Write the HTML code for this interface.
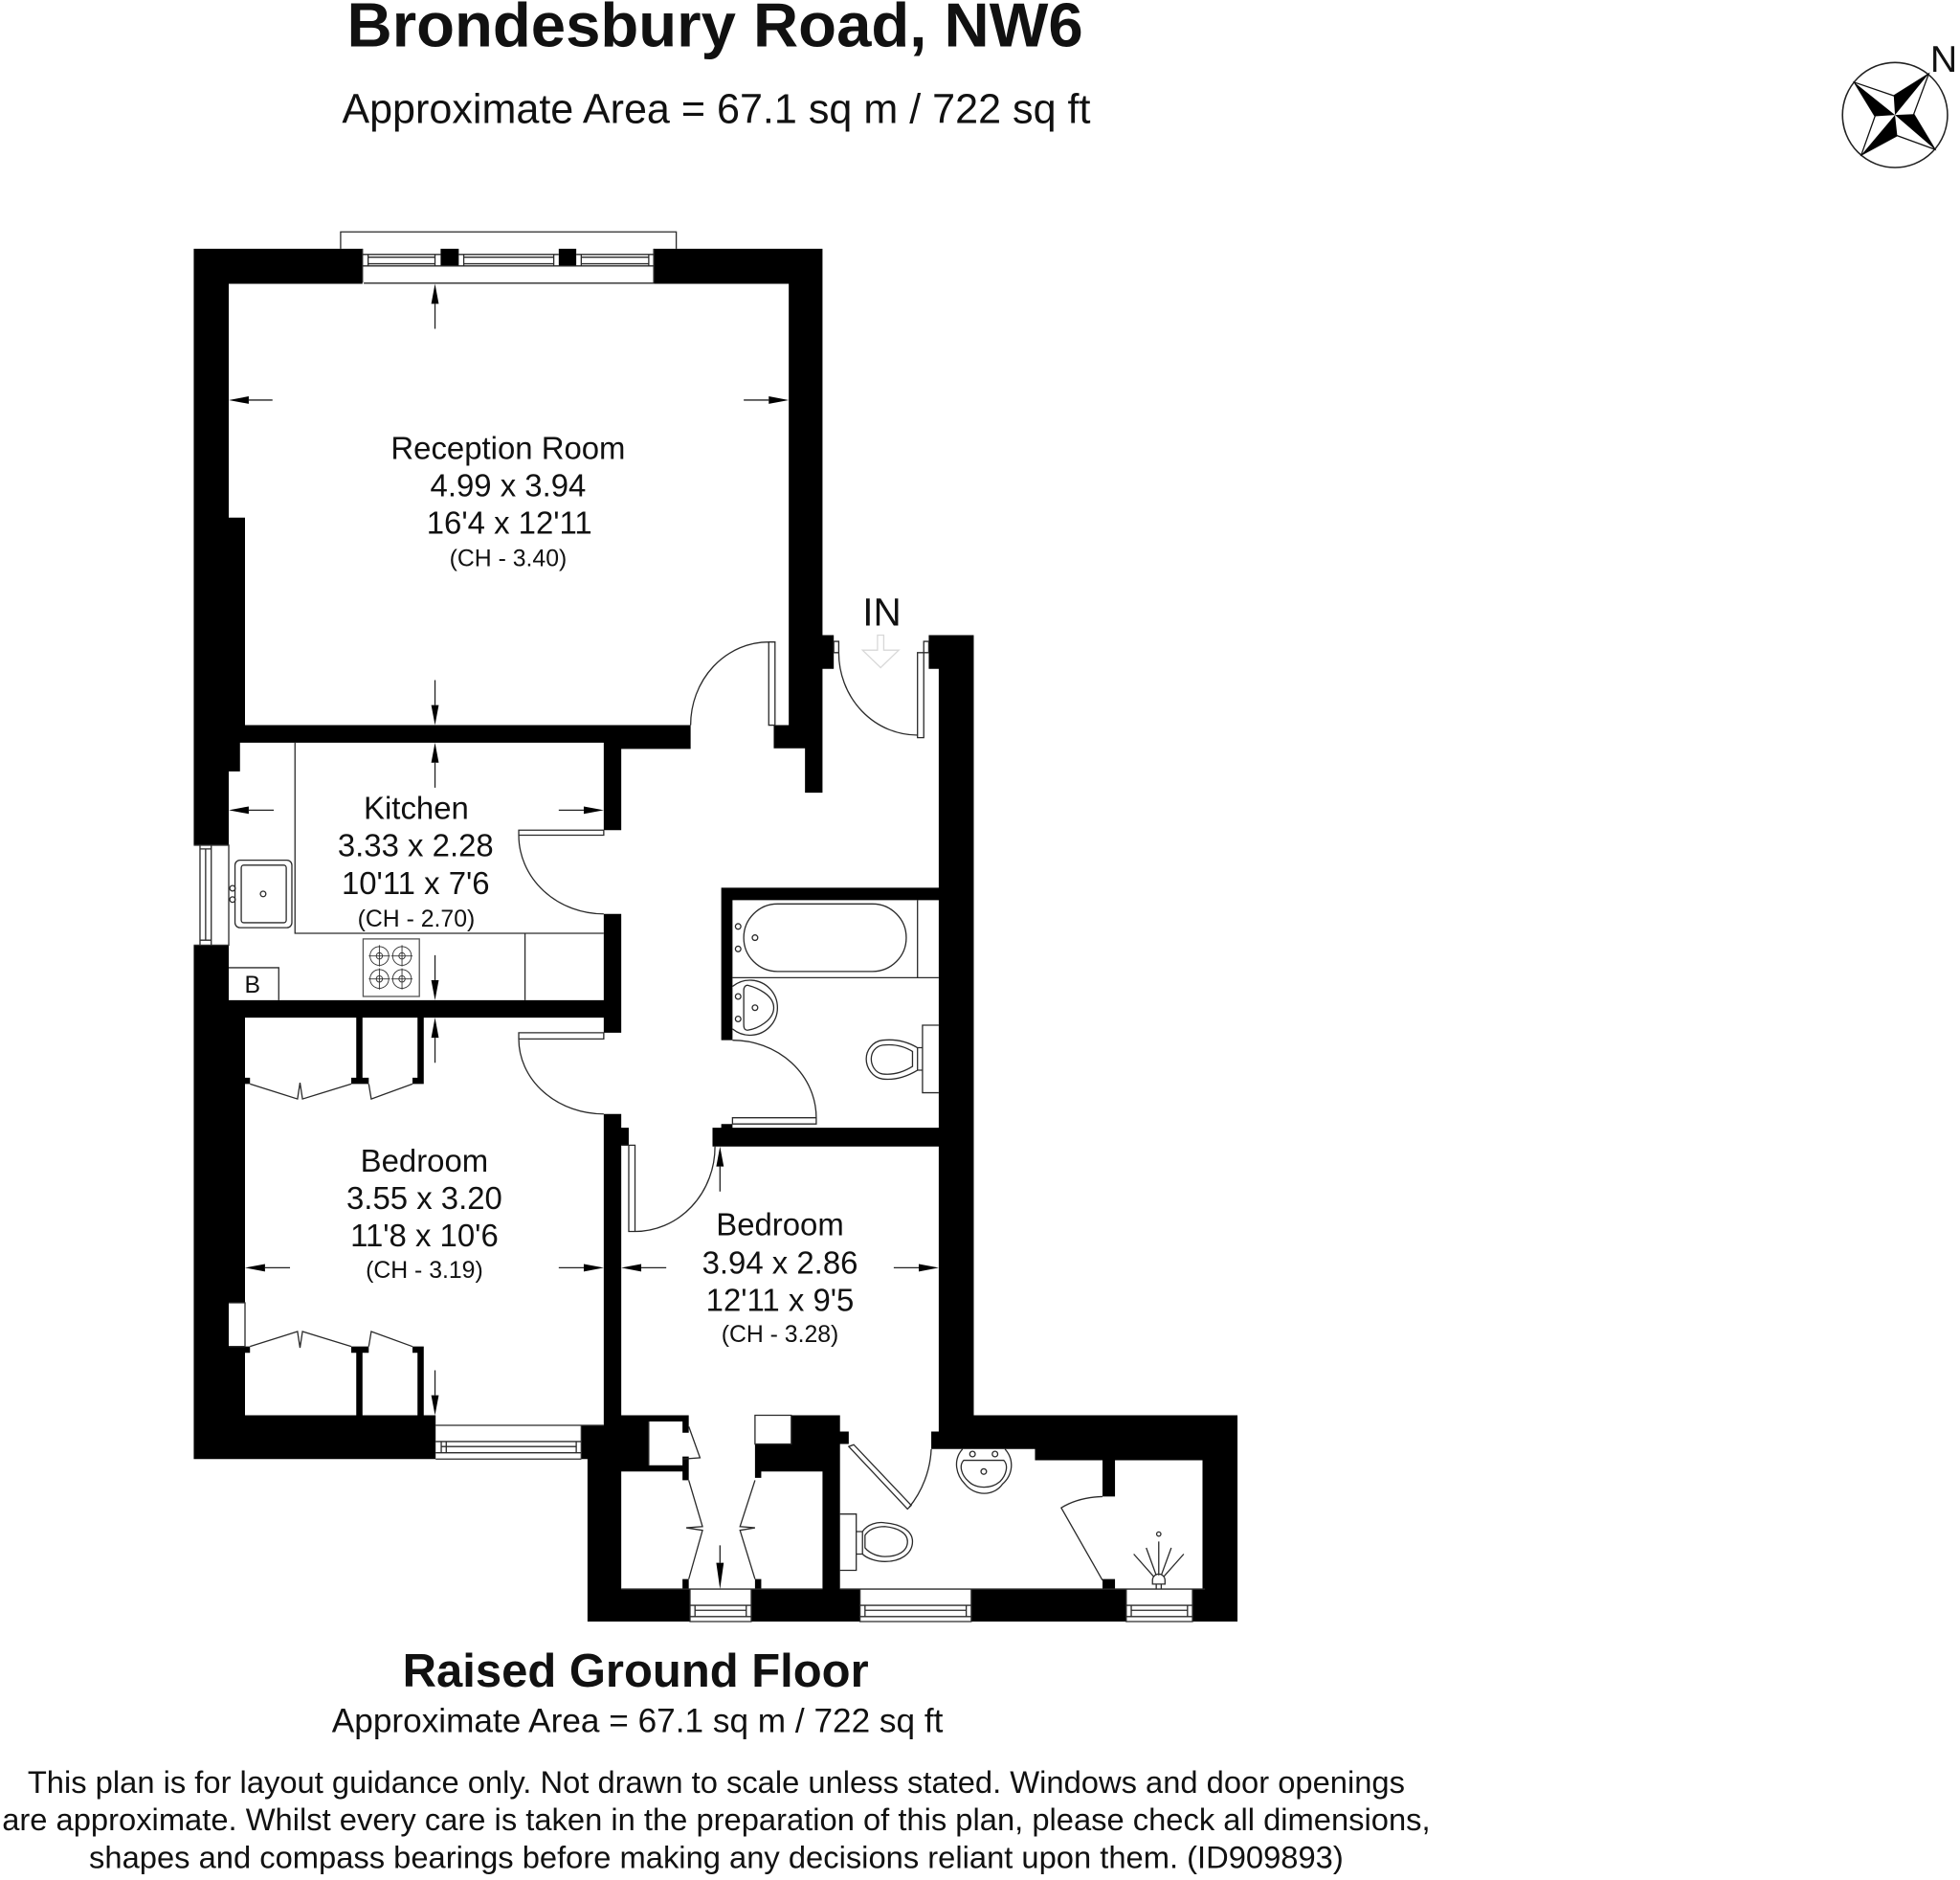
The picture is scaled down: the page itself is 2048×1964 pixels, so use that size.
<!DOCTYPE html>
<html><head><meta charset="utf-8"><title>Brondesbury Road, NW6</title>
<style>html,body{margin:0;padding:0;background:#fff}svg{display:block}
text{font-family:"Liberation Sans",Arial,sans-serif;fill:#111;text-anchor:middle}
.r{font-size:25.2px}.c{font-size:19px}.b{font-weight:bold}
.l{fill:none;stroke:#2a2a2a;stroke-width:1}
.a{fill:#000}.d{stroke:#222;stroke-width:1;fill:none}</style></head>
<body>
<svg xmlns="http://www.w3.org/2000/svg" width="2048" height="1964" viewBox="0 0 1568 1503.7" preserveAspectRatio="none">
<rect width="1568" height="1503.7" fill="#fff"/>
<!-- walls -->
<path fill="#000" d="
M155 199H290V227H155Z M523 199H658V227H523Z
M352.5 199H367V212.7H352.5Z M447 199H461V212.7H447Z
M155 199H183V414H155Z M155 414H196V585H155Z
M631 199H658V580H631Z M631 508H667V535H631Z M619 580H658V598.500H619Z M644 598H658V634H644Z
M155 580H552.500V594H155Z M483 594H552.500V599H483Z M155 594H192V617H155Z
M155 617H183V676H155Z M155 756H183V810H155Z
M483 599H497V664H483Z M483 731H497V826H483Z
M155 800H497V814H155Z
M155 814H196V1042H155Z M155 1042H183V1078H155Z M155 1077H196V1135H155Z
M155 1132H348.500V1167H155Z
M196 862H200V867H196Z M281 862H295V867H281Z M285 814H290V867H285Z M334 814H339V867H334Z M330 862H339V867H330Z
M196 1077H200V1082H196Z M281 1077H295V1082H281Z M285 1077H290V1132H285Z M334 1077H339V1132H334Z M330 1077H339V1082H330Z
M483 891H497V1140H483Z M497 902H503V916H497Z
M465 1140H519V1167H465Z M483 1132H551V1137H483Z M483 1137H519V1140H483Z M546 1132H551V1146H546Z
M470 1167H519V1172H470Z M470 1172H551V1177H470Z M546 1165H551V1184H546Z M470 1172H497V1275H470Z
M633 1132H672V1145H633Z M633 1145H679V1155H633Z M604 1155H672V1177H604Z M604 1177H609V1182H604Z M658 1177H672V1271H658Z
M546 1263H551V1271H546Z M604 1263H609V1271H604Z
M470 1271H552V1297H470Z M601 1271H688V1297H601Z M777 1271H901V1297H777Z M954 1271H990V1297H954Z
M751 508H779V1145H751Z M743 508H779V535H743Z
M577 710H779V720H577Z M577 710H586V832H577Z M577 899H586V905H577Z M570 902H779V917H570Z
M745 1145H990V1159H745Z M751 1132H990V1145H751Z M828 1145H990V1168H828Z
M882 1168H892V1197H882Z M882 1263H892V1271H882Z M962 1168H990V1271H962Z"/>

<!-- top window -->
<path class="l" d="M272.500 199V185.500H541V199 M290 203.500H352.500 M367 203.500H447 M461 203.500H523 M290 212.700H523 M291 226.500H523 M290 199V226 M523 199V226
M294.500 203.500V212.700 M348 203.500V212.700 M371 203.500V212.700 M443 203.500V212.700 M465 203.500V212.700 M519 203.500V212.700
M294.500 205.700H348 M294.500 211H348 M371 205.700H443 M371 211H443 M465 205.700H519 M465 211H519"/>
<!-- kitchen window -->
<path class="l" d="M155 676H183V756H155 M160 676V756 M164.500 679V752 M169 676V756 M160 679H169 M160 752H169"/>
<!-- bedroom window -->
<path class="l" d="M348.500 1140H483 M348.500 1153H465 M353 1157H461 M353 1162H461 M348.500 1167H465 M353 1153V1162 M461 1153V1162 M348.500 1162H465 M357 1153V1162 M465 1140V1167"/>
<!-- bottom windows -->
<path class="l" d="M552 1271H601V1297H552Z M552 1284H601 M556 1288H597 M552 1293H601 M556 1284V1293 M597 1284V1293
M688 1271H777V1297H688Z M688 1284H777 M692 1288H773 M688 1293H777 M692 1284V1293 M773 1284V1293
M901 1271H954V1297H901Z M901 1284H954 M905 1288H950 M901 1293H954 M905 1284V1293 M950 1284V1293
M551 1271H604 M672 1271H964 M497 1271H658"/>
<!-- reception door -->
<path class="l" d="M615 513.500H620V580H615Z M552.500 580A62.500 66.500 0 0 1 615 513.500"/>
<!-- entrance door -->
<path class="l" d="M667 513H671V522H667Z M739 513H743V522H739Z M734 522H739V590H734Z M671 522A63 66 0 0 0 734 588"/>
<path d="M702 508H707V520H719L704.500 534L690 520H702Z" fill="none" stroke="#d8d8d8" stroke-width="1"/>
<!-- kitchen door + lower door -->
<path class="l" d="M415 664H483V668H415Z M415 668A68 63 0 0 0 483 731
M415 826H483V831H415Z M415 831A68 60 0 0 0 483 891"/>
<!-- bedroom 2 door -->
<path class="l" d="M503 916H508V985H503Z M497 916H503 M508 985A64 68 0 0 0 572 917"/>
<!-- bathroom door -->
<path class="l" d="M586 894H653V899H586Z M586 832A67 62 0 0 1 653 894"/>
<!-- closets bedroom -->
<path class="l" d="M200 867L238 879L240 866L242 879L281 867 M295 867L297 879L330 867
M200 1077L238 1065L240 1078L242 1065L281 1077 M295 1077L297 1065L330 1077
M183 1042H196V1077H183"/>
<!-- lower cupboards -->
<path class="l" d="M551 1141L560 1166L546 1167 M551 1184L562 1221L549 1222L562 1224L551 1263 M604 1184L592 1221L604 1222L592 1224L604 1263
M604 1132H633V1155H604Z M519 1137V1172"/>
<!-- WC door -->
<path class="l" d="M679 1157L683 1155.500L729 1204L726 1207Z M745 1159A80 80 0 0 1 727 1206
M882 1197A50 30 0 0 0 849 1206L882 1264"/>
<!-- kitchen fittings -->
<path class="l" d="M236 594V746.500H483 M420 746.500V800 M183 774H223V800"/>
<rect class="l" x="188" y="688" width="45.500" height="54" rx="4"/>
<rect class="l" x="193" y="692" width="36" height="46" rx="2"/>
<circle class="l" cx="186" cy="710.500" r="2.200"/><circle class="l" cx="186" cy="719.500" r="2.200"/><circle class="l" cx="210.500" cy="715" r="2.200"/>
<rect x="290.500" y="751" width="45" height="46" fill="none" stroke="#555" stroke-width="1"/>
<g fill="none" stroke="#333" stroke-width="0.7">
<circle cx="303.500" cy="764.600" r="7.500"/><circle cx="303.500" cy="764.600" r="2.500"/><path d="M295 764.600h17 M303.500 756v17"/>
<circle cx="321.600" cy="764.600" r="7.500"/><circle cx="321.600" cy="764.600" r="2.500"/><path d="M313 764.600h17 M321.600 756v17"/>
<circle cx="303.500" cy="783" r="7.500"/><circle cx="303.500" cy="783" r="2.500"/><path d="M295 783h17 M303.500 774.500v17"/>
<circle cx="321.600" cy="783" r="7.500"/><circle cx="321.600" cy="783" r="2.500"/><path d="M313 783h17 M321.600 774.500v17"/>
</g>
<!-- bathroom fittings -->
<path class="l" d="M586 782H751 M734 720V782"/>
<rect class="l" x="595" y="723" width="130" height="54" rx="27"/>
<circle class="l" cx="590.500" cy="741" r="2.200"/><circle class="l" cx="590.500" cy="759" r="2.200"/><circle class="l" cx="604" cy="750" r="2.200"/>
<path class="l" d="M586 789A22 22 0 1 1 586 823 M598 788C606 790 619 796 619 806C619 816 606 823 598 824C595 824 595 821 595 819V792C595 790 596 788 598 788Z"/>
<circle class="l" cx="590.500" cy="797" r="2.200"/><circle class="l" cx="590.500" cy="815" r="2.200"/><circle class="l" cx="604" cy="806" r="2.200"/>
<path class="l" d="M751 820H738V874H751 M738 838H734V856H738 M734 838C724 832 715 831 706 832C698 833 693 840 693 847C693 854 698 862 706 863C715 864 724 862 734 856 M730 841C722 836 714 835 706 836C700 837 697 842 697 847C697 852 700 858 706 859C714 860 722 858 730 853V841Z"/>
<!-- WC fittings -->
<path class="l" d="M770 1159C762 1168 765 1180 772 1187C780 1197 795 1197 802 1187C810 1180 812 1168 804 1159 M771 1168H803C807 1172 805 1180 800 1185C793 1191 781 1191 775 1185C769 1180 767 1172 771 1168Z"/>
<circle class="l" cx="778" cy="1163" r="2.200"/><circle class="l" cx="796" cy="1163" r="2.200"/><circle class="l" cx="787" cy="1177" r="2.200"/>
<path class="l" d="M672 1211H685V1256H672 M685 1225H690V1243H685 M690 1225C694 1219 702 1217 708 1218C720 1219 730 1224 730 1233C730 1243 720 1249 708 1249C702 1249 694 1247 690 1243 M692 1228C696 1222 703 1221 708 1221C718 1222 726 1226 726 1233C726 1241 718 1245 708 1245C703 1245 696 1243 692 1238V1228Z"/>
<!-- shower -->
<path class="l" d="M922 1267V1264A5 5 0 0 1 932 1264V1267Z M925 1267V1271 M929 1267V1271 M927 1260V1233 M925 1260L917 1238 M929 1260L937 1238 M923 1261L907 1243 M931 1261L947 1243"/>
<circle class="l" cx="927" cy="1227" r="1.700"/>
<!-- dimension arrows -->
<g>
<path class="d" d="M348 243V263 M348 564V544 M348 610V630 M348 784V764 M348 830V850 M348 1116V1096 M576 933V953 M576 1250V1236 M199 320H218 M615 320H595 M199 648H219 M467 648H447 M212 1014H232 M467 1014H447 M513 1014H533 M735 1014H715"/>
<path class="a" d="M348 227L345 243H351Z M348 580L345 564H351Z M348 594L345 610H351Z M348 800L345 784H351Z M348 814L345 830H351Z M348 1132L345 1116H351Z M576 917L573 933H579Z M576 1271L573 1250H579Z
M183 320L199 317V323Z M631 320L615 317V323Z M183 648L199 645V651Z M483 648L467 645V651Z M196 1014L212 1011V1017Z M483 1014L467 1011V1017Z M497 1014L513 1011V1017Z M751 1014L735 1011V1017Z"/>
</g>
<!-- compass -->
<circle cx="1516" cy="92" r="42" fill="none" stroke="#222" stroke-width="1.200"/>
<path fill="none" stroke="#111" stroke-width="1" d="M1483.400 65.800L1515 76.600L1543 59L1531 91.300L1548 119.500L1517.800 108.500L1489 124L1500 93Z"/>
<path fill="#000" d="M1483.400 65.800L1516 92L1500 93Z M1543 59L1516 92L1515 76.600Z M1548 119.500L1516 92L1531 91.300Z M1489 124L1516 92L1517.800 108.500Z"/>
<text x="1555" y="57.500" style="font-size:30px">N</text>
<!-- text -->
<text class="b" x="572" y="37" style="font-size:50px">Brondesbury Road, NW6</text>
<text x="573" y="98.500" style="font-size:33px">Approximate Area = 67.1 sq m / 722 sq ft</text>
<text x="705.500" y="500.500" style="font-size:31px">IN</text>
<text x="202" y="794" style="font-size:19px">B</text>
<text class="r" x="406.500" y="367">Reception Room</text>
<text class="r" x="406.500" y="397">4.99 x 3.94</text>
<text class="r" x="407.500" y="427">16'4 x 12'11</text>
<text class="c" x="406.500" y="453">(CH - 3.40)</text>
<text class="r" x="333" y="655">Kitchen</text>
<text class="r" x="332.500" y="685">3.33 x 2.28</text>
<text class="r" x="332.500" y="715">10'11 x 7'6</text>
<text class="c" x="333" y="741">(CH - 2.70)</text>
<text class="r" x="339.500" y="937">Bedroom</text>
<text class="r" x="339.500" y="967">3.55 x 3.20</text>
<text class="r" x="339.500" y="997">11'8 x 10'6</text>
<text class="c" x="339.500" y="1022">(CH - 3.19)</text>
<text class="r" x="624" y="988">Bedroom</text>
<text class="r" x="624" y="1018.500">3.94 x 2.86</text>
<text class="r" x="624" y="1048.500">12'11 x 9'5</text>
<text class="c" x="624" y="1073.500">(CH - 3.28)</text>
<text class="b" x="508.500" y="1349" style="font-size:37.500px">Raised Ground Floor</text>
<text x="510" y="1385.500" style="font-size:26.950px">Approximate Area = 67.1 sq m / 722 sq ft</text>
<text x="573" y="1434" style="font-size:25.050px">This plan is for layout guidance only. Not drawn to scale unless stated. Windows and door openings</text>
<text x="573" y="1464" style="font-size:25.050px">are approximate. Whilst every care is taken in the preparation of this plan, please check all dimensions,</text>
<text x="573" y="1494" style="font-size:25.050px">shapes and compass bearings before making any decisions reliant upon them. (ID909893)</text>
</svg>
</body></html>
